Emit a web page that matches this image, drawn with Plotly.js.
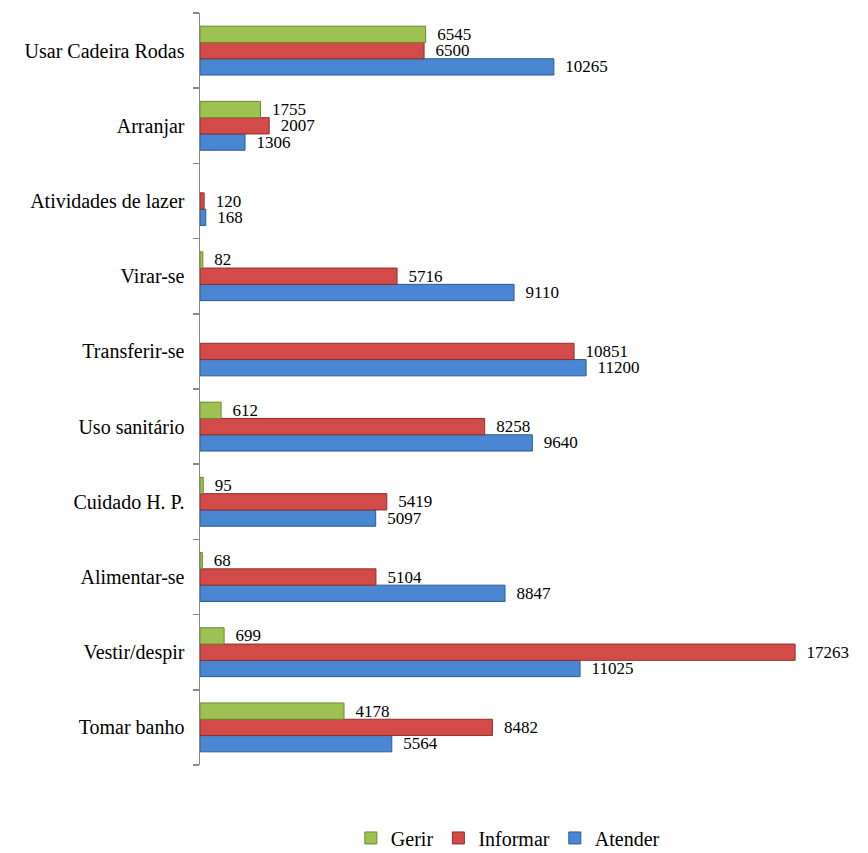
<!DOCTYPE html>
<html>
<head>
<meta charset="utf-8">
<script src="https://cdn.plot.ly/plotly-3.0.1.min.js"></script>
<style>html,body{margin:0;padding:0;background:#fff;}#chart{width:868px;height:853px;}</style>
</head>
<body>
<div id="chart"></div>
<script>
const categories = ["Tomar banho","Vestir/despir","Alimentar-se","Cuidado H. P.","Uso sanitário","Transferir-se","Virar-se","Atividades de lazer","Arranjar","Usar Cadeira Rodas"];
const gerir    = [4178, 699, 68, 95, 612, null, 82, null, 1755, 6545];
const informar = [8482, 17263, 5104, 5419, 8258, 10851, 5716, 120, 2007, 6500];
const atender  = [5564, 11025, 8847, 5097, 9640, 11200, 9110, 168, 1306, 10265];

const font = "Liberation Serif, Times New Roman, serif";
function lbl(arr){ return arr.map(v => v == null ? "" : "\u00a0\u00a0" + v); }
function tr(name, vals, color, line){
  return {
    type: "bar", orientation: "h", name: name,
    y: categories, x: vals,
    text: lbl(vals), textposition: "outside", cliponaxis: false, constraintext: "none",
    textfont: {family: font, size: 17, color: "#000"},
    marker: {color: color, line: {color: line, width: 1}},
    hoverinfo: "x+name"
  };
}
const data = [
  tr("Atender", atender, "#4a86d2", "#2c5a94"),
  tr("Informar", informar, "#d24b48", "#8e2f2d"),
  tr("Gerir", gerir, "#9dc252", "#6a8a2e")
];
const layout = {
  width: 868, height: 853,
  margin: {l: 200, r: 13, t: 13, b: 88, autoexpand: false},
  paper_bgcolor: "#fff", plot_bgcolor: "#fff",
  barmode: "group", bargap: 0.35, bargroupgap: 0,
  showlegend: true,
  legend: {orientation: "h", traceorder: "reversed", x: 0.47, xanchor: "center", y: -0.097, yanchor: "middle",
           itemwidth: 30, font: {family: font, size: 20, color: "#000"}},
  xaxis: {range: [0, 19000], visible: false, showgrid: false, zeroline: false, fixedrange: true},
  yaxis: {type: "category", showline: true, linecolor: "#888", linewidth: 1.5,
          ticks: "outside", tickson: "boundaries", ticklen: 6, tickcolor: "#888", tickwidth: 1.5,
          ticklabelstandoff: 10, showgrid: false, zeroline: false,
          tickfont: {family: font, size: 20, color: "#000"}},
  font: {family: font}
};
Plotly.newPlot("chart", data, layout, {displayModeBar: false, staticPlot: true});
</script>
</body>
</html>
